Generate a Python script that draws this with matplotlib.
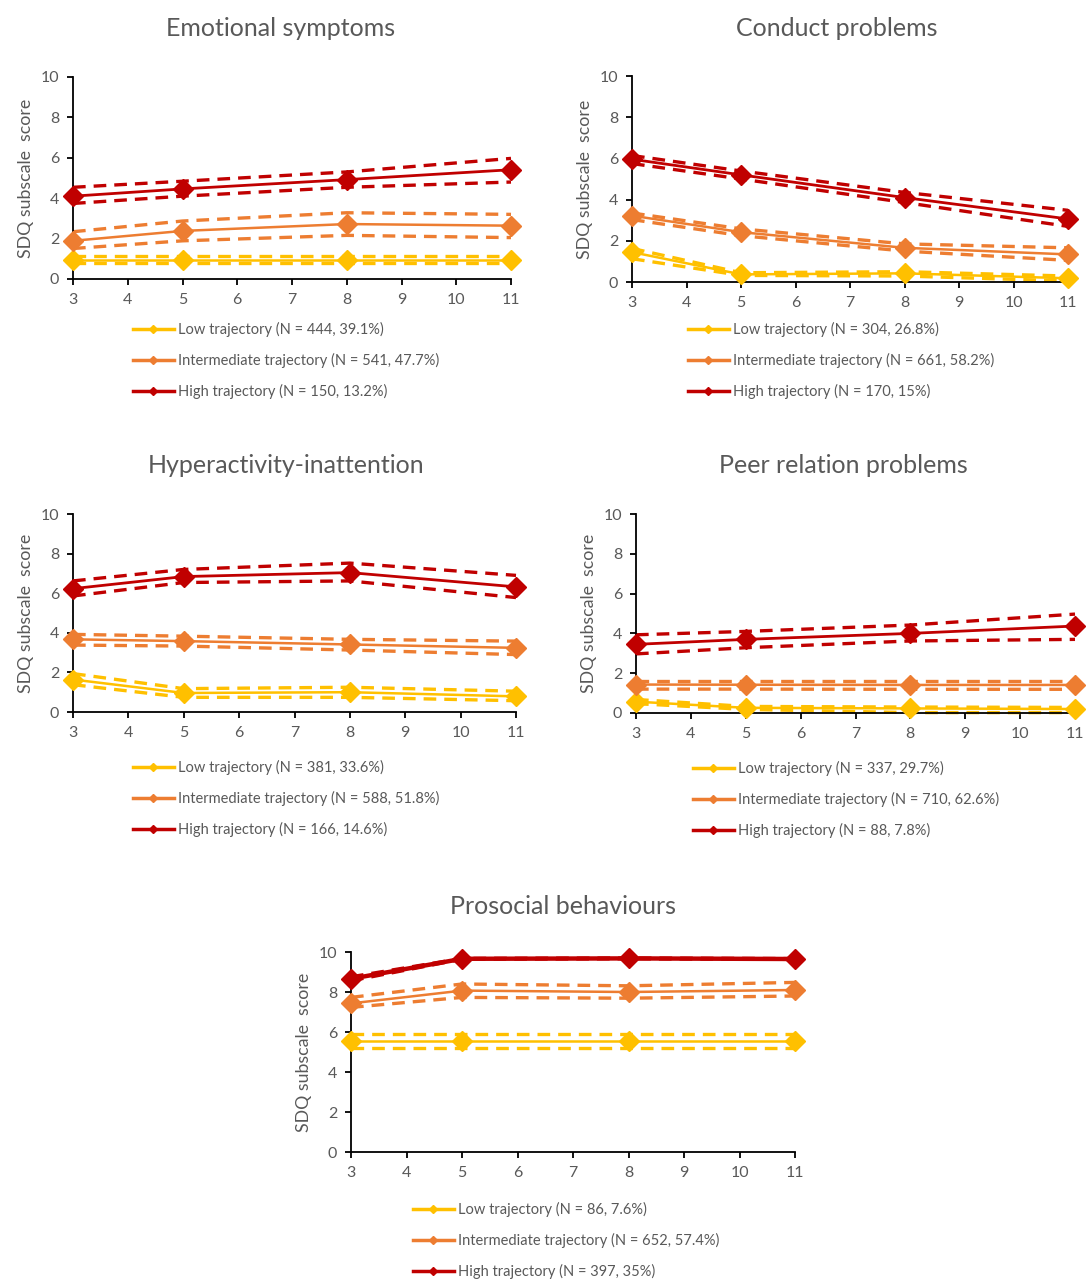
import matplotlib.pyplot as plt
from matplotlib.lines import Line2D

plt.rcParams['font.family'] = ['Lato', 'DejaVu Sans']

ages = [3, 5, 8, 11]
col_low = '#FFC000'
col_mid = '#ED7D31'
col_high = '#C00000'
grey = '#595959'

# ---- data: mean, upper CI, lower CI per trajectory ----
emo_low = [0.93, 0.93, 0.93, 0.93]
emo_low_up = [1.15, 1.15, 1.15, 1.15]
emo_low_lo = [0.79, 0.79, 0.79, 0.79]
emo_mid = [1.89, 2.38, 2.72, 2.64]
emo_mid_up = [2.34, 2.87, 3.28, 3.2]
emo_mid_lo = [1.51, 1.89, 2.16, 2.05]
emo_high = [4.1, 4.46, 4.92, 5.41]
emo_high_up = [4.54, 4.84, 5.3, 5.97]
emo_high_lo = [3.74, 4.1, 4.54, 4.8]

con_low = [1.45, 0.37, 0.42, 0.18]
con_low_up = [1.63, 0.45, 0.5, 0.29]
con_low_lo = [1.13, 0.32, 0.29, 0.05]
con_mid = [3.22, 2.42, 1.66, 1.34]
con_mid_up = [3.35, 2.58, 1.85, 1.66]
con_mid_lo = [3.03, 2.25, 1.5, 1.05]
con_high = [5.96, 5.2, 4.1, 3.06]
con_high_up = [6.14, 5.39, 4.35, 3.48]
con_high_lo = [5.75, 5.0, 3.86, 2.7]

hyp_low = [1.64, 0.96, 1.0, 0.79]
hyp_low_up = [1.94, 1.18, 1.25, 1.05]
hyp_low_lo = [1.38, 0.74, 0.74, 0.57]
hyp_mid = [3.67, 3.58, 3.41, 3.24]
hyp_mid_up = [3.92, 3.83, 3.67, 3.58]
hyp_mid_lo = [3.38, 3.33, 3.13, 2.9]
hyp_high = [6.23, 6.84, 7.04, 6.32]
hyp_high_up = [6.62, 7.2, 7.52, 6.9]
hyp_high_lo = [5.86, 6.54, 6.62, 5.78]

peer_low = [0.57, 0.26, 0.23, 0.2]
peer_low_up = [0.68, 0.33, 0.3, 0.28]
peer_low_lo = [0.47, 0.18, 0.02, 0.02]
peer_mid = [1.43, 1.42, 1.41, 1.41]
peer_mid_up = [1.6, 1.6, 1.6, 1.6]
peer_mid_lo = [1.2, 1.2, 1.19, 1.19]
peer_high = [3.45, 3.7, 4.0, 4.37]
peer_high_up = [3.93, 4.1, 4.42, 4.97]
peer_high_lo = [2.97, 3.28, 3.62, 3.7]

pro_low = [5.56, 5.56, 5.56, 5.56]
pro_low_up = [5.92, 5.92, 5.92, 5.92]
pro_low_lo = [5.2, 5.2, 5.2, 5.2]
pro_mid = [7.43, 8.07, 8.0, 8.1]
pro_mid_up = [7.73, 8.4, 8.31, 8.48]
pro_mid_lo = [7.23, 7.73, 7.69, 7.8]
pro_high = [8.66, 9.66, 9.68, 9.65]
pro_high_up = [8.76, 9.68, 9.7, 9.67]
pro_high_lo = [8.56, 9.64, 9.66, 9.63]

panels = [
    ('Emotional symptoms', [emo_low, emo_low_up, emo_low_lo, emo_mid, emo_mid_up, emo_mid_lo,
                            emo_high, emo_high_up, emo_high_lo],
     ['Low trajectory (N = 444, 39.1%)', 'Intermediate trajectory (N = 541, 47.7%)',
      'High trajectory (N = 150, 13.2%)']),
    ('Conduct problems', [con_low, con_low_up, con_low_lo, con_mid, con_mid_up, con_mid_lo,
                          con_high, con_high_up, con_high_lo],
     ['Low trajectory (N = 304, 26.8%)', 'Intermediate trajectory (N = 661, 58.2%)',
      'High trajectory (N = 170, 15%)']),
    ('Hyperactivity-inattention', [hyp_low, hyp_low_up, hyp_low_lo, hyp_mid, hyp_mid_up, hyp_mid_lo,
                                   hyp_high, hyp_high_up, hyp_high_lo],
     ['Low trajectory (N = 381, 33.6%)', 'Intermediate trajectory (N = 588, 51.8%)',
      'High trajectory (N = 166, 14.6%)']),
    ('Peer relation problems', [peer_low, peer_low_up, peer_low_lo, peer_mid, peer_mid_up, peer_mid_lo,
                                peer_high, peer_high_up, peer_high_lo],
     ['Low trajectory (N = 337, 29.7%)', 'Intermediate trajectory (N = 710, 62.6%)',
      'High trajectory (N = 88, 7.8%)']),
    ('Prosocial behaviours', [pro_low, pro_low_up, pro_low_lo, pro_mid, pro_mid_up, pro_mid_lo,
                              pro_high, pro_high_up, pro_high_lo],
     ['Low trajectory (N = 86, 7.6%)', 'Intermediate trajectory (N = 652, 57.4%)',
      'High trajectory (N = 397, 35%)']),
]

W, H = 1088, 1283
fig = plt.figure(figsize=(W / 100, H / 100), dpi=100)

# pixel layout: axes (x0, x1, ytop, ybottom), title centre, legend anchor
boxes = [(73, 511, 77, 279), (632, 1068, 76, 282), (73, 516, 514, 712),
         (636, 1075, 514, 713), (351, 795, 952, 1152)]
titles_xy = [(281, 28), (837, 28), (286, 466), (843, 466), (563, 907)]
legend_xy = [(133, 322), (688, 322), (133, 760), (693, 761), (413, 1202)]

colors = [col_low, col_mid, col_high]

for i, (title, series, labels) in enumerate(panels):
    x0, x1, yt, yb = boxes[i]
    ax = fig.add_axes([x0 / W, 1 - yb / H, (x1 - x0) / W, (yb - yt) / H])
    for k in range(3):
        mean, up, lo = series[3 * k], series[3 * k + 1], series[3 * k + 2]
        c = colors[k]
        for ci in (up, lo):
            ax.plot(ages, ci, color=c, lw=2.4, dashes=(3.8, 2.4), zorder=2, clip_on=False)
        lw = 1.8 if k < 2 else 2.0
        if i == 4 and k == 2:
            lw = 3.2
        ax.plot(ages, mean, color=c, lw=lw, marker='D', ms=10, zorder=3, clip_on=False)

    ax.set_xlim(3, 11)
    ax.set_ylim(0, 10)
    ax.set_xticks(range(3, 12))
    ax.set_yticks(range(0, 11, 2))
    for s in ('top', 'right'):
        ax.spines[s].set_visible(False)
    for s in ('left', 'bottom'):
        ax.spines[s].set_color('black')
        ax.spines[s].set_linewidth(1.3)
    ax.tick_params(direction='out', length=4, width=1.3, color='black',
                   labelcolor=grey, labelsize=11.5, pad=6)
    ax.set_ylabel('SDQ subscale  score', color=grey, fontsize=12.8, labelpad=5)

    fig.text(titles_xy[i][0] / W, 1 - titles_xy[i][1] / H, title, ha='center', va='center',
             fontsize=18, color=grey)

    handles = [Line2D([0], [0], color=c, lw=2.5, marker='D', ms=4) for c in colors]
    ax.legend(handles, labels, loc='upper left',
              bbox_to_anchor=(legend_xy[i][0] / W, 1 - legend_xy[i][1] / H),
              bbox_transform=fig.transFigure, frameon=False, fontsize=10.5,
              labelcolor=grey, handlelength=2.8, handletextpad=0.3,
              labelspacing=1.1, borderpad=0, borderaxespad=0)

fig.savefig('out.png', dpi=100)
